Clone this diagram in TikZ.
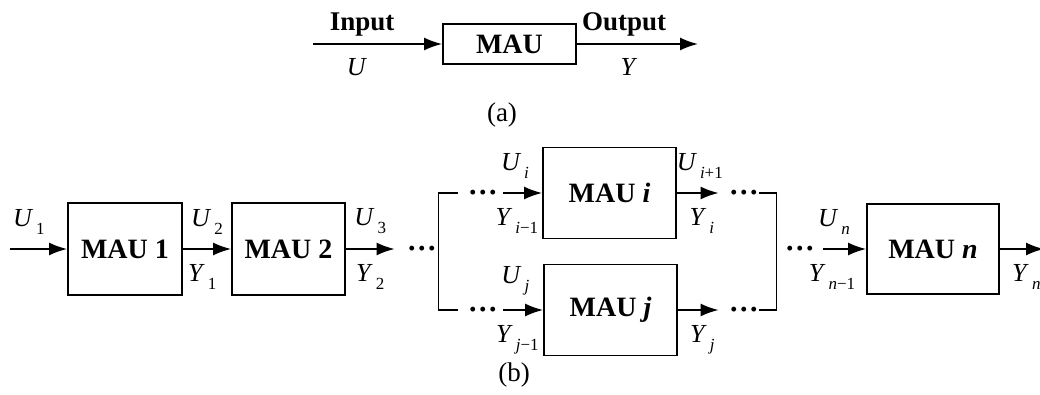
\documentclass[tikz,border=0pt]{standalone}
\usepackage{fontspec}
\setmainfont{Liberation Serif}
\usetikzlibrary{arrows.meta, positioning}
\newcommand{\subl}[2]{\textit{#1}\kern1.5pt\raisebox{-4pt}{\fontsize{8.5}{10}\selectfont #2}}
\newcommand{\dotsrow}{\rule{0pt}{0.665em}···}

\begin{document}
\begin{tikzpicture}[x=0.5pt, y=-0.5pt,
    mau/.style={rectangle, draw, line width=0.9pt, minimum width=66.5pt, minimum height=45.5pt, inner sep=0pt, font=\fontsize{14}{16}\selectfont\bfseries},
    dots/.style={inner sep=0pt, font=\fontsize{15}{17}\selectfont\bfseries},
    lab/.style={inner sep=0pt, font=\fontsize{13}{15}\selectfont},
    line/.style={draw, line width=0.9pt},
    sig/.style={line, -{Latex[length=9pt, width=6.5pt]}}]
    \useasboundingbox (0,0) rectangle (1040,395);
    % (a)
    \node [mau, minimum height=20pt] (mau) at (509.5,44) {MAU};
    \coordinate (in) at (313,44);
    \coordinate (out) at (698,44);
    \draw [sig] (in) -- node [lab, pos=0.38, above=3.5pt, font=\fontsize{13.5}{15}\selectfont\bfseries] {Input} node [lab, pos=0.34, below=7pt] {\textit{U}} (mau);
    \draw [sig] (mau) -- node [lab, pos=0.39, above=3.5pt, font=\fontsize{13.5}{15}\selectfont\bfseries] {Output} node [lab, pos=0.43, below=7pt] {\textit{Y}} (out);
    \node [lab, font=\fontsize{13.5}{15}\selectfont] (capa) at (502,115) {(a)};
    % (b)
    \node [mau, minimum width=57pt, minimum height=46pt] (m1) at (125,249) {MAU 1};
    \node [mau, minimum width=56.5pt, minimum height=46pt] (m2) at (288.5,249) {MAU 2};
    \node [dots] (d1) at (422,249) {\dotsrow};
    \node [mau] (mi) at (609.5,193) {MAU \textit{i}};
    \node [mau] (mj) at (610.5,310) {MAU \textit{j}};
    \node [dots] (dil) at (483,193) {\dotsrow};
    \node [dots] (djl) at (483,310) {\dotsrow};
    \node [dots] (dir) at (744,193) {\dotsrow};
    \node [dots] (djr) at (744,310) {\dotsrow};
    \node [dots] (d2) at (800,249) {\dotsrow};
    \node [mau, minimum width=66pt, minimum height=45pt] (mn) at (933,249) {MAU \textit{n}};
    \coordinate (u1) at (10,249);
    \coordinate (yn) at (1044,249);
    \draw [sig] (u1) -- node [lab, pos=0.33, above=7pt] {\subl{U}{1}} (m1);
    \draw [sig] (m1) -- node [lab, above=7pt] {\subl{U}{2}} node [lab, pos=0.4, below=7.5pt] {\subl{Y}{1}} (m2);
    \draw [sig] (m2) -- node [lab, above=7pt] {\subl{U}{3}} node [lab, below=7.5pt] {\subl{Y}{2}} ([xshift=-6pt]d1.west);
    \draw [line] ([xshift=-5pt]dil.west) -- ++(-19,0) |- ([xshift=-5pt]djl.west);
    \draw [sig] ([xshift=2.5pt]dil.east) -- node [lab, pos=0.3, above=7pt] {\subl{U}{\textit{i}}} node [lab, pos=0.35, below=7.5pt] {\subl{Y}{\textit{i}−1}} (mi);
    \draw [sig] ([xshift=2.5pt]djl.east) -- node [lab, pos=0.3, above=7pt] {\subl{U}{\textit{j}}} node [lab, pos=0.35, below=7.5pt] {\subl{Y}{\textit{j}−1}} (mj);
    \draw [sig] (mi) -- node [lab, pos=0.55, above=7pt] {\subl{U}{\textit{i}+1}} node [lab, pos=0.6, below=7.5pt] {\subl{Y}{\textit{i}}} ([xshift=-5pt]dir.west);
    \draw [sig] (mj) -- node [lab, pos=0.6, below=7.5pt] {\subl{Y}{\textit{j}}} ([xshift=-5pt]djr.west);
    \draw [line] (dir.east) -- ++(17,0) |- (djr.east);
    \draw [sig] ([xshift=4pt]d2.east) -- node [lab, pos=0.25, above=7pt] {\subl{U}{\textit{n}}} node [lab, pos=0.2, below=7.5pt] {\subl{Y}{\textit{n}−1}} (mn);
    \draw [sig] (mn) -- node [lab, pos=0.6, below=7.5pt] {\subl{Y}{\textit{n}}} (yn);
    \node [lab, font=\fontsize{13.5}{15}\selectfont] (capb) at (514,375) {(b)};
\end{tikzpicture}
\end{document}
